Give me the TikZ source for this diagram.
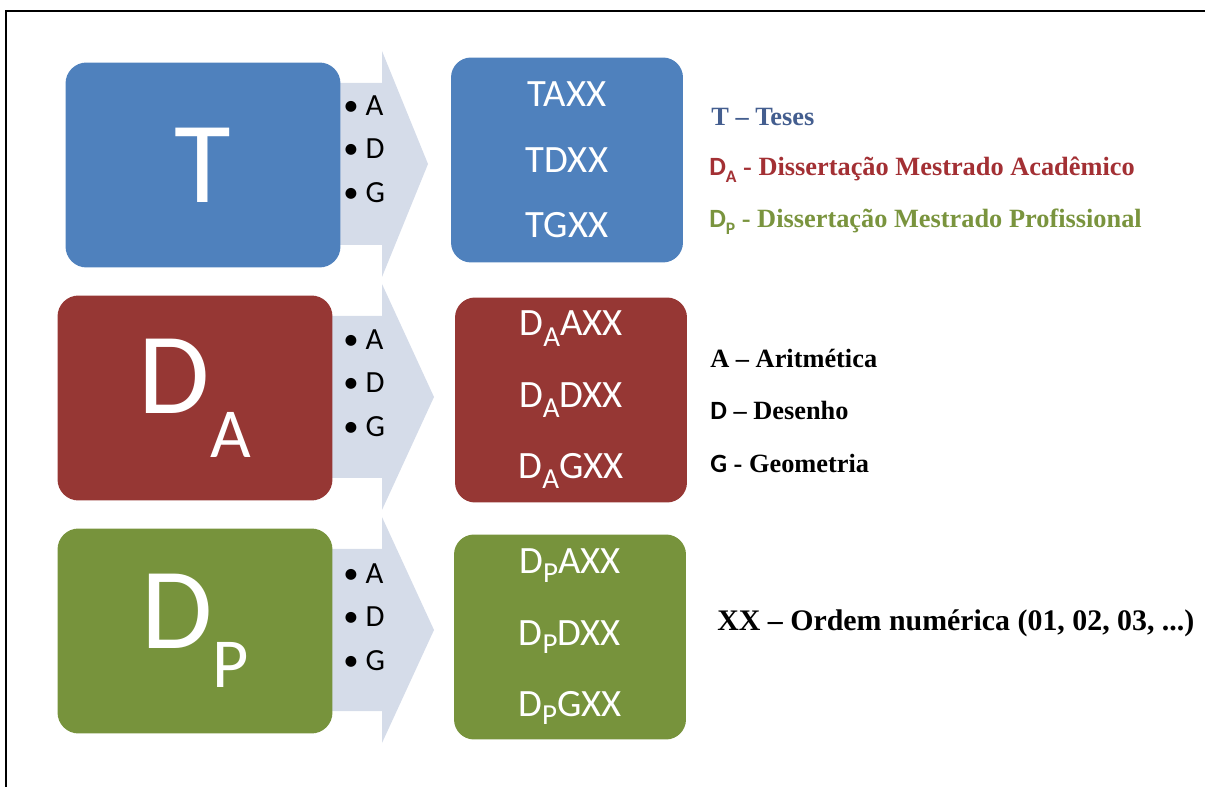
\documentclass[tikz,border=0pt]{standalone}
\usepackage{fontspec}
\setmainfont{Liberation Serif}
\newfontfamily\calfont{Carlito}
\usetikzlibrary{positioning}

\definecolor{tblue}{RGB}{79,129,189}
\definecolor{dared}{RGB}{150,55,52}
\definecolor{dpgreen}{RGB}{119,147,60}
\definecolor{chevfill}{RGB}{213,220,233}
\definecolor{legblue}{RGB}{68,94,143}
\definecolor{legred}{RGB}{163,48,52}
\definecolor{leggreen}{RGB}{122,148,62}

% lowered smaller letter (D_A, D_P)
\newcommand{\lowsub}[3]{\raisebox{-#2}{\fontsize{#3}{#3}\selectfont #1}}

\begin{document}
\begin{tikzpicture}[
        x=0.02cm, y=-0.02cm,
        bigbox/.style={
            rounded corners=0.42cm,
            minimum width=5.5cm,
            minimum height=4.1cm,
            inner sep=0pt,
            text=white,
            font=\calfont\fontsize{66}{70}\selectfont
        },
        codebox/.style={
            rounded corners=0.4cm,
            minimum width=4.64cm,
            minimum height=4.1cm,
            inner sep=0pt,
            text=white,
            align=center,
            font=\calfont\fontsize{22}{37.4}\selectfont
        },
        bullets/.style={anchor=west, inner sep=0pt, align=left,
            font=\calfont\fontsize{17.5}{24.7}\selectfont},
        legend/.style={anchor=base west, inner sep=0pt,
            font=\bfseries\fontsize{15}{18}\selectfont},
        chev/.style={fill=chevfill}
    ]

    \useasboundingbox (0,0) rectangle (1205,787);

    % frame
    \draw[line width=1pt] (6,787) -- (6,11) -- (1205,11);

    % block arrows (behind the boxes)
    \foreach \yc/\tip in {164/428, 397/434, 630/434}
        \fill[chev] (300,\yc-81) -- (382,\yc-81) -- (382,\yc-113) -- (\tip,\yc)
            -- (382,\yc+113) -- (382,\yc+81) -- (300,\yc+81) -- cycle;

    % Row 1
    \node[bigbox, fill=tblue] (T) at (203,165) {T};
    \node[bullets] (listT) at (343,149) {\textbullet\ A\\\textbullet\ D\\\textbullet\ G};
    \node[codebox, fill=tblue] (codesT) at (567,160) {TAXX\\TDXX\\TGXX};

    % Row 2
    \node[bigbox, fill=dared] (DA) at (195,398) {D\lowsub{A}{25pt}{40}};
    \node[bullets] (listDA) at (343,383) {\textbullet\ A\\\textbullet\ D\\\textbullet\ G};
    \node[codebox, fill=dared, font=\calfont\fontsize{22}{40.5}\selectfont] (codesDA) at (571,400)
        {D\lowsub{A}{6pt}{16.5}AXX\\D\lowsub{A}{6pt}{16.5}DXX\\D\lowsub{A}{6pt}{16.5}GXX};

    % Row 3
    \node[bigbox, fill=dpgreen] (DP) at (195,631) {D\lowsub{P}{22pt}{40}};
    \node[bullets] (listDP) at (343,617) {\textbullet\ A\\\textbullet\ D\\\textbullet\ G};
    \node[codebox, fill=dpgreen, font=\calfont\fontsize{22}{40.5}\selectfont] (codesDP) at (570,637)
        {D\lowsub{P}{5pt}{16.5}AXX\\D\lowsub{P}{5pt}{16.5}DXX\\D\lowsub{P}{5pt}{16.5}GXX};

    % Legend
    \node[legend, text=legblue] (legT) at (711,126) {T – Teses};
    \node[legend, text=legred] (legDA) at (709,176)
        {{\calfont D\lowsub{A}{3.5pt}{10}} - Dissertação Mestrado Acadêmico};
    \node[legend, text=leggreen] (legDP) at (709,228)
        {{\calfont D\lowsub{P}{3.5pt}{10}} - Dissertação Mestrado Profissional};

    \node[legend] (legA) at (710,368) {A – Aritmética};
    \node[legend] (legD) at (710,420) {{\calfont D} – Desenho};
    \node[legend] (legG) at (710,473) {{\calfont G} - Geometria};

    \node[legend, font=\bfseries\fontsize{17}{20}\selectfont] (legXX) at (717,630)
        {XX – Ordem numérica (01, 02, 03, ...)};

\end{tikzpicture}
\end{document}
